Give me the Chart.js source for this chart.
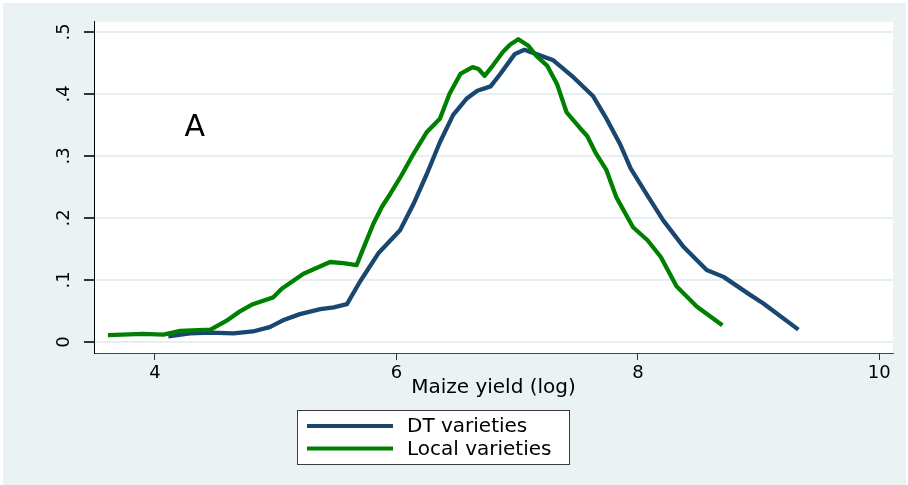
<!DOCTYPE html>
<html><head><meta charset="utf-8">
<script src="https://cdn.jsdelivr.net/npm/chart.js@4.4.1/dist/chart.umd.min.js"></script>
<style>html,body{margin:0;padding:0;background:#fff;overflow:hidden}canvas{display:block}</style>
</head><body>
<canvas id="c" width="908" height="485"></canvas>
<script>
// ---- data ----
const dtX = [4.11,4.29,4.46,4.65,4.81,4.95,5.06,5.20,5.37,5.48,5.59,5.70,5.85,6.03,6.14,6.25,6.36,6.47,6.58,6.67,6.78,6.86,6.98,7.06,7.16,7.30,7.47,7.63,7.74,7.85,7.94,8.08,8.21,8.38,8.57,8.71,8.93,9.04,9.33];
const dtY = [0.009,0.014,0.015,0.014,0.017,0.024,0.035,0.045,0.053,0.056,0.061,0.098,0.143,0.180,0.222,0.270,0.322,0.366,0.392,0.405,0.412,0.432,0.464,0.471,0.464,0.454,0.426,0.396,0.360,0.320,0.280,0.236,0.196,0.153,0.116,0.105,0.076,0.062,0.020];
const localX = [3.61,3.90,4.07,4.21,4.46,4.59,4.70,4.81,4.98,5.05,5.23,5.45,5.56,5.67,5.73,5.81,5.88,5.95,6.04,6.14,6.25,6.36,6.44,6.53,6.63,6.68,6.73,6.80,6.88,6.94,7.01,7.09,7.16,7.25,7.33,7.41,7.52,7.58,7.65,7.74,7.82,7.96,8.08,8.19,8.32,8.49,8.70];
const localY = [0.011,0.013,0.012,0.018,0.020,0.034,0.049,0.061,0.072,0.086,0.110,0.129,0.127,0.124,0.153,0.191,0.218,0.239,0.268,0.303,0.338,0.360,0.400,0.432,0.443,0.440,0.429,0.446,0.467,0.479,0.488,0.478,0.461,0.445,0.416,0.370,0.345,0.332,0.305,0.277,0.234,0.185,0.164,0.137,0.090,0.057,0.027];
const seriesLabels = ['DT varieties', 'Local varieties'];
const seriesColors = ['#1a476f', '#008000'];
const xTickValues = [4, 6, 8, 10];
const yTickValues = [0, 0.1, 0.2, 0.3, 0.4, 0.5];
const yTickLabels = ['0', '.1', '.2', '.3', '.4', '.5'];
const xTitle = 'Maize yield (log)';
const panelLabel = 'A';
const panelLabelPos = {x: 4.33, y: 0.345};

const FONT = 'DejaVu Sans';
const toPts = (xs, ys) => xs.map((x, i) => ({x: x, y: ys[i]}));

const bgPlugin = {
  id: 'bg',
  beforeDraw(chart) {
    const {ctx, chartArea: a} = chart;
    ctx.save();
    ctx.fillStyle = '#ffffff';
    ctx.fillRect(0, 0, chart.width, chart.height);
    ctx.fillStyle = '#eaf2f3';
    ctx.fillRect(3, 3, chart.width - 5, chart.height - 3);
    ctx.fillStyle = '#ffffff';
    ctx.fillRect(a.left, a.top, a.right - a.left, a.bottom - a.top);
    ctx.restore();
  }
};

const overlayPlugin = {
  id: 'overlay',
  afterDraw(chart) {
    const ctx = chart.ctx;
    const xs = chart.scales.x, ys = chart.scales.y;
    ctx.save();
    // panel label
    ctx.fillStyle = '#000';
    ctx.font = '30px "' + FONT + '"';
    ctx.textAlign = 'center';
    ctx.textBaseline = 'middle';
    ctx.fillText(panelLabel, xs.getPixelForValue(panelLabelPos.x), ys.getPixelForValue(panelLabelPos.y));
    // legend box
    const bx = 297, by = 410, bw = 272, bh = 54;
    ctx.fillStyle = '#ffffff';
    ctx.fillRect(bx, by, bw, bh);
    ctx.strokeStyle = '#3a3a3a';
    ctx.lineWidth = 1;
    ctx.strokeRect(bx + 0.5, by + 0.5, bw, bh);
    ctx.font = '20px "' + FONT + '"';
    ctx.textAlign = 'left';
    ctx.textBaseline = 'middle';
    chart.data.datasets.forEach((ds, i) => {
      const y = 426 + i * 22.5;
      ctx.strokeStyle = ds.borderColor;
      ctx.lineWidth = 4;
      ctx.beginPath();
      ctx.moveTo(307, y);
      ctx.lineTo(393, y);
      ctx.stroke();
      ctx.fillStyle = '#000';
      ctx.fillText(ds.label, 407, y + 1);
    });
    ctx.restore();
  }
};

new Chart(document.getElementById('c'), {
  type: 'line',
  data: {
    datasets: [
      {label: seriesLabels[0], data: toPts(dtX, dtY), borderColor: seriesColors[0], borderWidth: 4.3, pointRadius: 0, tension: 0, fill: false, order: 1, borderJoinStyle: 'round'},
      {label: seriesLabels[1], data: toPts(localX, localY), borderColor: seriesColors[1], borderWidth: 4.3, pointRadius: 0, tension: 0, fill: false, order: 0, borderJoinStyle: 'round'}
    ]
  },
  options: {
    responsive: false,
    animation: false,
    devicePixelRatio: 1,
    layout: {padding: {top: 21, right: 15, left: 0, bottom: 0}},
    plugins: {legend: {display: false}, tooltip: {enabled: false}},
    scales: {
      x: {
        type: 'linear', position: 'bottom',
        min: 3.4947, max: 10.1135,
        afterBuildTicks: s => { s.ticks = xTickValues.map(v => ({value: v})); },
        afterFit: s => { s.height = 132; },
        ticks: {font: {family: FONT, size: 18}, color: '#000', padding: 3, maxRotation: 0, autoSkip: false, callback: v => String(v)},
        grid: {drawOnChartArea: false, drawTicks: true, tickLength: 7, tickColor: '#333', lineWidth: 1},
        border: {color: '#444', width: 1},
        title: {display: true, text: xTitle, color: '#000', font: {family: FONT, size: 20}, padding: {top: 0, bottom: 85}}
      },
      y: {
        type: 'linear', position: 'left',
        min: -0.01768, max: 0.5161,
        afterBuildTicks: s => { s.ticks = yTickValues.map(v => ({value: v})); },
        afterFit: s => { s.width = 94; },
        ticks: {font: {family: FONT, size: 18}, color: '#000', padding: 11, minRotation: 90, maxRotation: 90, crossAlign: 'center', autoSkip: false,
          callback: (v, i) => yTickLabels[i]},
        grid: {color: '#e6eef0', lineWidth: 2, drawTicks: true, tickLength: 10, tickColor: '#333'},
        border: {color: '#000', width: 1}
      }
    }
  },
  plugins: [bgPlugin, overlayPlugin]
});
</script>
</body></html>
